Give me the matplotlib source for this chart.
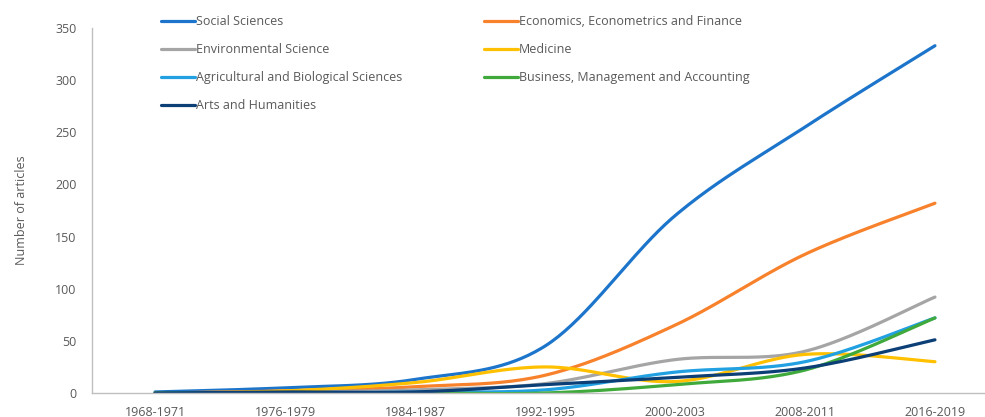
import numpy as np
import matplotlib
matplotlib.use("Agg")
import matplotlib.pyplot as plt

periods = ["1968-1971", "1976-1979", "1984-1987", "1992-1995",
           "2000-2003", "2008-2011", "2016-2019"]

social = [1, 5, 13, 45, 170, 255, 333]
economics = [0, 2, 6, 17, 65, 133, 182]
environmental = [0, 1, 3, 9, 32, 40, 92]
medicine = [0, 2, 10, 25, 11, 37, 30]
agricultural = [0, 0, 1, 3, 20, 30, 72]
business = [0, 0, 0, 0, 8, 22, 72]
arts = [0, 1, 1, 8, 15, 24, 51]

series = [
    ("Social Sciences", social, "#1C75CB"),
    ("Economics, Econometrics and Finance", economics, "#F8812C"),
    ("Environmental Science", environmental, "#A5A5A5"),
    ("Medicine", medicine, "#FFC000"),
    ("Agricultural and Biological Sciences", agricultural, "#21A0E2"),
    ("Business, Management and Accounting", business, "#3FAA3B"),
    ("Arts and Humanities", arts, "#0B3F76"),
]


def smooth(x, y, n=40):
    # excel-like smoothed line (catmull-rom as bezier segments)
    x = np.asarray(x, float)
    y = np.asarray(y, float)
    px = np.concatenate([[x[0]], x, [x[-1]]])
    py = np.concatenate([[y[0]], y, [y[-1]]])
    xs, ys = [], []
    t = np.linspace(0, 1, n)
    for i in range(1, len(px) - 2):
        p0 = np.array([px[i], py[i]])
        p3 = np.array([px[i + 1], py[i + 1]])
        c1 = p0 + (np.array([px[i + 1], py[i + 1]]) - np.array([px[i - 1], py[i - 1]])) / 6
        c2 = p3 - (np.array([px[i + 2], py[i + 2]]) - np.array([px[i], py[i]])) / 6
        b = ((1 - t) ** 3)[:, None] * p0 + (3 * (1 - t) ** 2 * t)[:, None] * c1 \
            + (3 * (1 - t) * t ** 2)[:, None] * c2 + (t ** 3)[:, None] * p3
        xs.extend(b[:, 0])
        ys.extend(b[:, 1])
    return xs, ys


plt.rcParams['font.family'] = ['Open Sans', 'DejaVu Sans']
grey = "#595959"

fig = plt.figure(figsize=(9.85, 4.17), dpi=100)
ax = fig.add_axes([92 / 985, 1 - 393 / 417, (985 - 92) / 985, (393 - 28) / 417])

x = np.arange(len(periods))
lines = {}
for name, vals, col in series:
    sx, sy = smooth(x, vals)
    ln, = ax.plot(sx, sy, color=col, lw=2.3, solid_capstyle='round', label=name)
    lines[name] = ln

ax.set_xlim(-0.485, 6.385)
ax.set_ylim(0, 350)
ax.set_yticks(np.arange(0, 351, 50))
ax.set_xticks(x)
ax.set_xticklabels(periods)
ax.tick_params(length=0, colors=grey, labelsize=9)
ax.tick_params(axis='y', pad=11)
ax.tick_params(axis='x', pad=9)
for s in ['top', 'right']:
    ax.spines[s].set_visible(False)
for s in ['left', 'bottom']:
    ax.spines[s].set_color("#BFBFBF")
    ax.spines[s].set_linewidth(1.0)
ax.set_ylabel("Number of articles", color=grey, fontsize=9, labelpad=20)

order = ["Social Sciences", "Environmental Science", "Agricultural and Biological Sciences",
         "Arts and Humanities", "Economics, Econometrics and Finance", "Medicine",
         "Business, Management and Accounting"]
leg = fig.legend([lines[n] for n in order], order, ncol=2, frameon=False,
                 loc='upper left', bbox_to_anchor=(155 / 985, 1 - 9 / 417),
                 borderpad=0, handlelength=2.7, handletextpad=0.1,
                 columnspacing=6.5, labelspacing=1.2, fontsize=9)
for t in leg.get_texts():
    t.set_color(grey)

fig.savefig("out.png", dpi=100)
